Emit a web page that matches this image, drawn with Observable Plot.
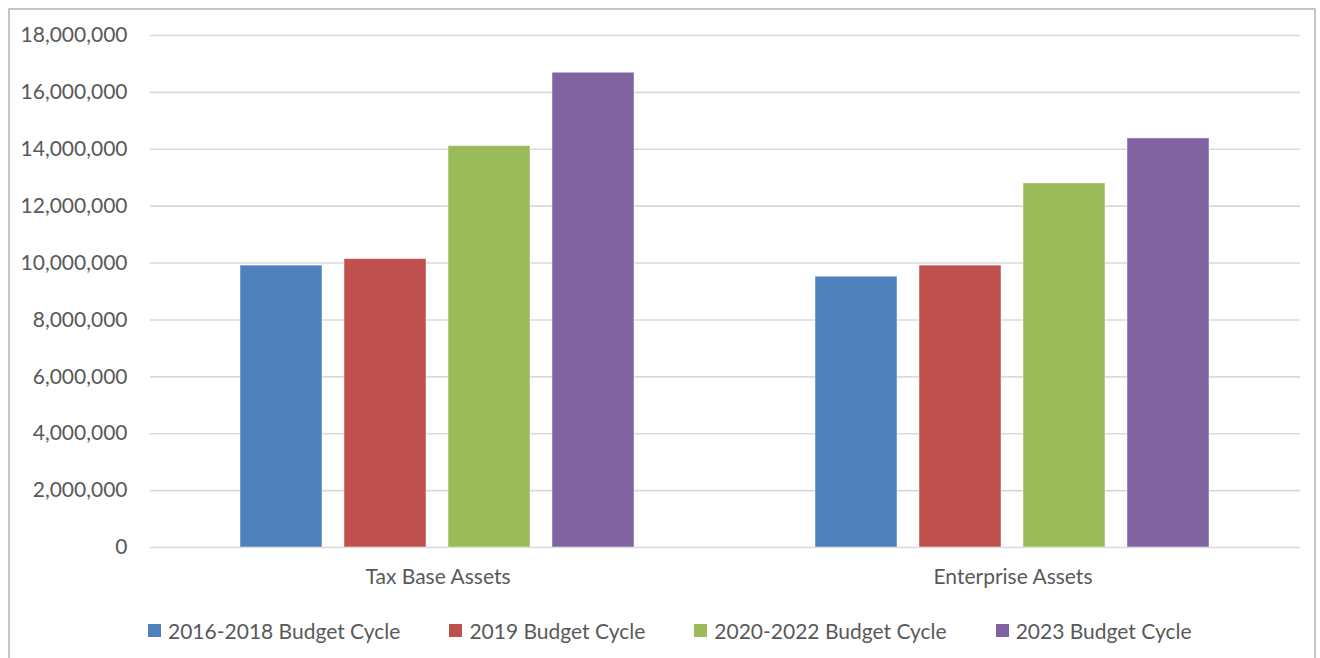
<!DOCTYPE html>
<html>
<head>
<meta charset="utf-8">
<script src="https://cdn.jsdelivr.net/npm/d3@7"></script>
<script src="https://cdn.jsdelivr.net/npm/@observablehq/plot@0.6"></script>
<style>
  html, body { margin: 0; padding: 0; background: #fff; }
  #wrap { position: relative; width: 1320px; height: 658px; overflow: hidden; font-family: Lato, "Open Sans", sans-serif; }
  #frame { position: absolute; left: 8px; top: 8px; width: 1308px; height: 700px; border: 2px solid #c6c6c6; box-sizing: border-box; }
  #chart { position: absolute; left: 0; top: 0; }
  #legend { position: absolute; left: 148px; top: 618px; display: flex; gap: 49px; font-size: 21px; color: #595959; }
  .item { display: flex; align-items: center; gap: 7px; white-space: nowrap; }
  .sw { width: 13px; height: 13px; display: inline-block; }
</style>
</head>
<body>
<div id="wrap">
  <div id="frame"></div>
  <div id="chart"></div>
  <div id="legend"></div>
</div>
<script>
const categories = ["Tax Base Assets", "Enterprise Assets"];
const series = ["2016-2018 Budget Cycle", "2019 Budget Cycle", "2020-2022 Budget Cycle", "2023 Budget Cycle"];
const taxBaseValues = [9910000, 10140000, 14110000, 16690000];
const enterpriseValues = [9520000, 9910000, 12800000, 14380000];
const colors = ["#4F81BD", "#C0504D", "#9BBB59", "#8064A2"];
const yTicks = [0, 2000000, 4000000, 6000000, 8000000, 10000000, 12000000, 14000000, 16000000, 18000000];

const valuesByCategory = [taxBaseValues, enterpriseValues];
const data = [];
categories.forEach((c, i) => series.forEach((s, j) => data.push({category: c, series: s, value: valuesByCategory[i][j]})));

const chart = Plot.plot({
  width: 1320,
  height: 597,
  marginLeft: 150,
  marginRight: 20,
  marginTop: 35,
  marginBottom: 50,
  style: {fontFamily: "Lato, 'Open Sans', sans-serif", fontSize: "21px", color: "#595959", background: "transparent"},
  fx: {domain: categories, padding: 0, label: null, tickSize: 0, tickPadding: 22},
  x: {domain: series, paddingInner: 0.21, paddingOuter: 0.86, axis: null},
  y: {domain: [0, 18000000], ticks: yTicks, tickFormat: d3.format(","), label: null, tickSize: 0, tickPadding: 23},
  color: {domain: series, range: colors},
  marks: [
    Plot.gridY(yTicks, {stroke: "#d9d9d9", strokeOpacity: 1, strokeWidth: 1.6}),
    Plot.barY(data, {fx: "category", x: "series", y: "value", fill: "series", stroke: "#ffffff", strokeOpacity: 0.45, strokeWidth: 1})
  ]
});
document.getElementById("chart").appendChild(chart);

const legend = d3.select("#legend");
series.forEach((s, j) => {
  const it = legend.append("div").attr("class", "item");
  it.append("span").attr("class", "sw").style("background", colors[j]);
  it.append("span").text(s);
});
</script>
</body>
</html>
